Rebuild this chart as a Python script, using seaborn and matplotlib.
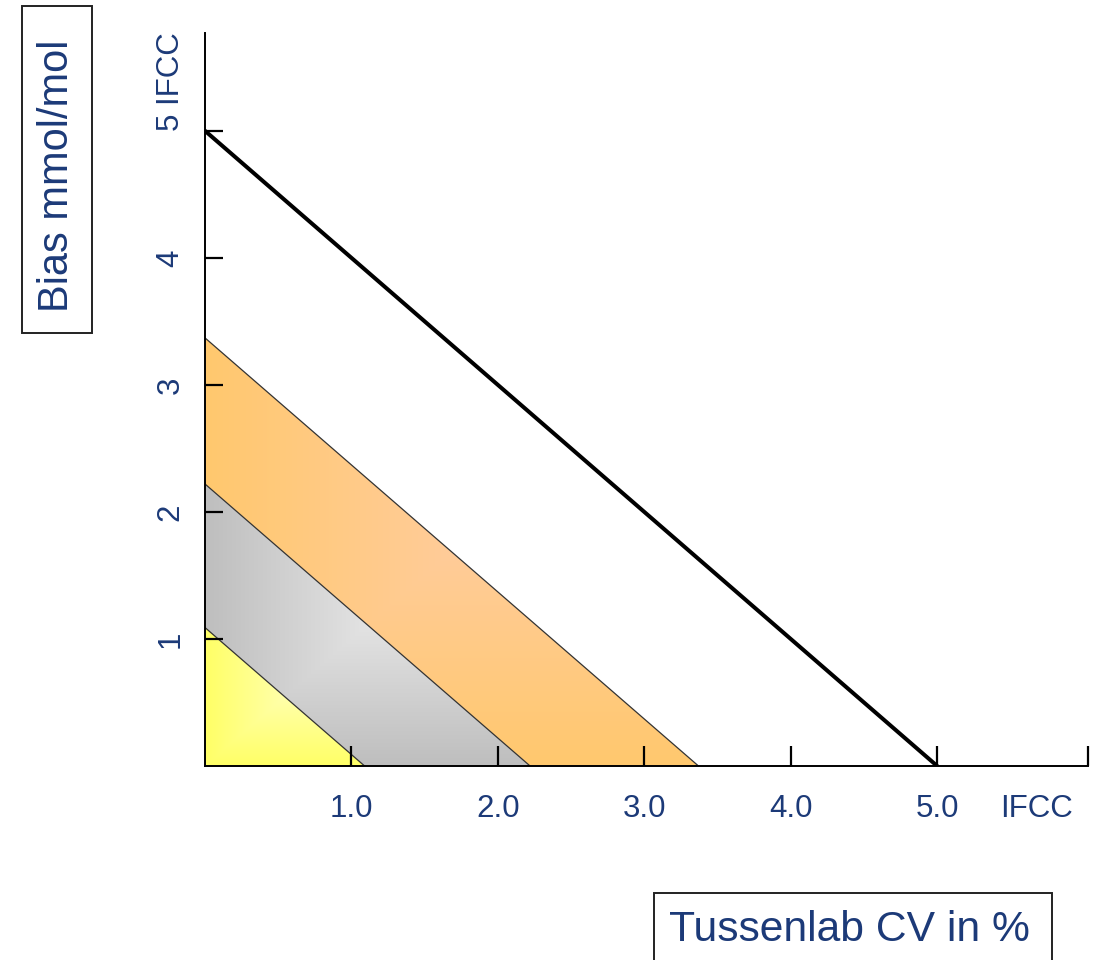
import numpy as np
import pandas as pd
import seaborn as sns
import matplotlib.pyplot as plt
from matplotlib.patches import Rectangle
from matplotlib.colors import to_rgb

# intercepts of the zones (same value on both axes)
zone_names = ['orange', 'gray', 'yellow']
zone_cuts = [3.37, 2.22, 1.09]
zone_edge = ['#FFC86E', '#BEBEBE', '#FFFF66']
zone_center = ['#FFCC99', '#E3E3E3', '#FFFFAA']

ifcc_limit = 5.0

x_max = 6.03
x_ticks = [1, 2, 3, 4, 5, x_max]
x_labels = ['1.0', '2.0', '3.0', '4.0', '5.0', '']
y_ticks = [1, 2, 3, 4, 5]
y_labels = ['1', '2', '3', '4', '5 IFCC']

TXT = '#1C3A78'
W, H = 1102, 960

sns.set_style('ticks')
plt.rcParams['font.family'] = ['Liberation Sans', 'DejaVu Sans']

fig = plt.figure(figsize=(W / 100, H / 100), dpi=100)
ax = fig.add_axes([205 / W, 194 / H, 883 / W, 733 / H])
ax.set_axisbelow(False)


def gradient_triangle(ax, cut, edge, center, z):
    poly = ax.fill([0, 0, cut], [0, cut, 0], facecolor='none',
                   edgecolor='none', zorder=z)[0]
    u = np.linspace(-1, 1, 300)
    U, V = np.meshgrid(u, u)
    t = np.maximum(np.abs(U), np.abs(V))[..., None]
    c0 = np.array(to_rgb(center))
    c1 = np.array(to_rgb(edge))
    img = c0 + (c1 - c0) * t
    im = ax.imshow(img, extent=[0, cut, 0, cut], origin='lower',
                   aspect='auto', zorder=z, interpolation='bilinear')
    im.set_clip_path(poly)


for i, (cut, e, c) in enumerate(zip(zone_cuts, zone_edge, zone_center)):
    gradient_triangle(ax, cut, e, c, 0.5 + 0.1 * i)

# zone borders
edges = pd.concat([
    pd.DataFrame({'x': [0, cut], 'y': [cut, 0], 'zone': name})
    for name, cut in zip(zone_names, zone_cuts)
], ignore_index=True)
sns.lineplot(data=edges, x='x', y='y', units='zone', estimator=None,
             color='#333333', linewidth=0.9, ax=ax, zorder=1, legend=False)

# IFCC limit line
limit = pd.DataFrame({'x': [0, ifcc_limit], 'y': [ifcc_limit, 0]})
sns.lineplot(data=limit, x='x', y='y', color='black', linewidth=2.9,
             ax=ax, zorder=2, legend=False)

ax.set_xlim(0, x_max)
ax.set_ylim(0, 5.77)
ax.set_xlabel('')
ax.set_ylabel('')

sns.despine(ax=ax)
for s in ['left', 'bottom']:
    ax.spines[s].set_linewidth(1.4)
    ax.spines[s].set_color('black')

ax.set_xticks(x_ticks, labels=x_labels)
ax.set_yticks(y_ticks, labels=y_labels)
ax.set_xticks([5.676], labels=['IFCC'], minor=True)
ax.tick_params(axis='x', which='major', direction='in', length=14.5,
               width=1.6, color='black', pad=20, labelsize=22.5,
               labelcolor=TXT)
ax.tick_params(axis='x', which='minor', length=0, pad=20, labelsize=22.5,
               labelcolor=TXT)
ax.tick_params(axis='y', direction='in', length=13, width=1.6,
               color='black', pad=14, labelsize=22.5, labelcolor=TXT)
for lab in ax.get_yticklabels():
    lab.set_rotation(90)
    lab.set_va('center')
ax.get_yticklabels()[-1].set_va('bottom')

# boxed axis titles
fig.patches.append(Rectangle((22 / W, 1 - 333 / H), 70 / W, 327 / H,
                             transform=fig.transFigure, fill=False,
                             edgecolor='#222222', linewidth=1.4))
fig.text(57 / W, 1 - 176 / H, 'Bias mmol/mol', rotation=90, ha='center',
         va='center', fontsize=30, color=TXT)

fig.patches.append(Rectangle((654 / W, -10 / H), 398 / W, 77 / H,
                             transform=fig.transFigure, fill=False,
                             edgecolor='#222222', linewidth=1.4))
fig.text(849 / W, 1 - 930 / H, 'Tussenlab CV in %', ha='center',
         va='center', fontsize=30.7, color=TXT)

fig.savefig('out.png', dpi=100)
